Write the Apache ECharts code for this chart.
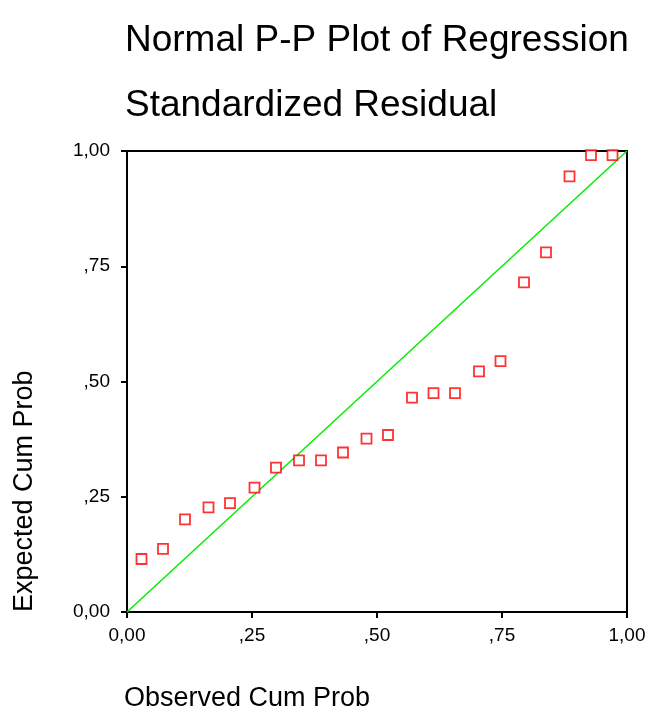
<!DOCTYPE html>
<html>
<head>
<meta charset="utf-8">
<script src="https://cdn.jsdelivr.net/npm/echarts@6/dist/echarts.min.js"></script>
<style>
  html, body { margin: 0; padding: 0; background: #fff; }
  #chart { width: 666px; height: 717px; }
</style>
</head>
<body>
<div id="chart"></div>
<script>
// observed vs expected cumulative probability
const observedCum = [0.029, 0.072, 0.116, 0.163, 0.206, 0.255, 0.298, 0.344, 0.388, 0.432,
  0.479, 0.522, 0.570, 0.613, 0.656, 0.704, 0.747, 0.794, 0.838, 0.885, 0.928, 0.971];
const expectedCum = [0.115, 0.137, 0.201, 0.227, 0.236, 0.270, 0.313, 0.329, 0.329, 0.346,
  0.376, 0.384, 0.465, 0.475, 0.475, 0.522, 0.544, 0.715, 0.780, 0.945, 0.991, 0.991];
const refLine = [[0, 0], [1, 1]];
const tickLabels = ['0,00', ',25', ',50', ',75', '1,00'];

const chart = echarts.init(document.getElementById('chart'));

const fmt = v => tickLabels[Math.round(v * 4)];
const font = 'Liberation Sans, Arial, sans-serif';

let option = {
  animation: false,
  backgroundColor: '#fff',
  title: {
    text: 'Normal P-P Plot of Regression\nStandardized Residual',
    left: 120,
    top: 3,
    textStyle: {
      fontFamily: font,
      fontSize: 37,
      fontWeight: 'normal',
      color: '#000',
      lineHeight: 65
    }
  },
  grid: {
    left: 127,
    right: 39,
    top: 151,
    bottom: 105,
    show: true,
    borderColor: '#000',
    borderWidth: 2
  },
  xAxis: {
    type: 'value',
    min: 0,
    max: 1,
    interval: 0.25,
    axisLine: { show: true, lineStyle: { color: '#000', width: 2 } },
    axisTick: { show: true, length: 6, lineStyle: { color: '#000', width: 2 } },
    splitLine: { show: false },
    axisLabel: { formatter: fmt, color: '#000', fontSize: 19, fontFamily: font, margin: 14 }
  },
  yAxis: {
    type: 'value',
    min: 0,
    max: 1,
    interval: 0.25,
    axisLine: { show: true, lineStyle: { color: '#000', width: 2 } },
    axisTick: { show: true, length: 6, lineStyle: { color: '#000', width: 2 } },
    splitLine: { show: false },
    axisLabel: { formatter: fmt, color: '#000', fontSize: 19, fontFamily: font, margin: 17 }
  },
  graphic: [
    {
      type: 'text',
      left: 124,
      top: 685,
      style: { text: 'Observed Cum Prob', font: '27px ' + font, fill: '#000' }
    },
    {
      type: 'text',
      x: 11,
      y: 612,
      rotation: Math.PI / 2,
      style: { text: 'Expected Cum Prob', font: '27px ' + font, fill: '#000' }
    }
  ],
  series: [
    {
      type: 'line',
      data: refLine,
      symbol: 'none',
      lineStyle: { color: '#00ee00', width: 1.5 },
      z: 1
    },
    {
      type: 'scatter',
      data: observedCum.map((x, i) => [x, expectedCum[i]]),
      symbol: 'rect',
      symbolSize: 10,
      itemStyle: { color: '#fff', borderColor: '#ff0000', borderWidth: 1.8 },
      z: 2
    }
  ]
};
chart.setOption(option);
</script>
</body>
</html>
